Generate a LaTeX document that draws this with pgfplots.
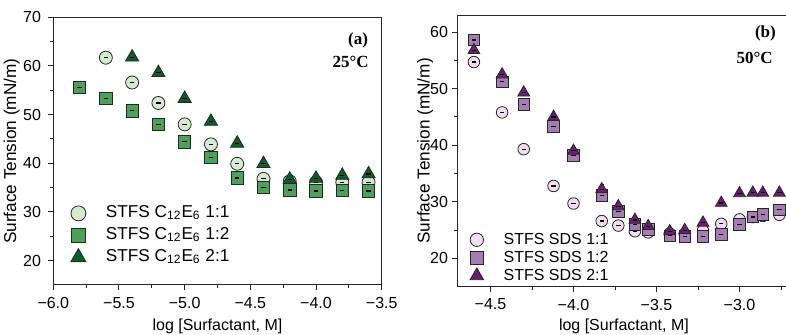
\documentclass[border=0pt]{standalone}
\usepackage{pgfplots}
\usepackage{pgfplotstable}
\pgfplotsset{compat=1.18}
\usepackage{fontspec}
\setmainfont{Liberation Sans}
\newfontfamily\tagfont{Liberation Serif}

\definecolor{gLight}{HTML}{D7EAD1}
\definecolor{gMid}{HTML}{4E9F5B}
\definecolor{gDark}{HTML}{0E5C2D}
\definecolor{pLight}{HTML}{F0DDEE}
\definecolor{pMid}{HTML}{A47DB3}
\definecolor{pDark}{HTML}{6A1F6F}

% surface tension of STFS / C12E6 mixtures, 25 C  (x = log c, y = gamma, e = error)
\pgfplotstableread{
x     y     e
-5.6  61.7  0.3
-5.4  56.6  0.6
-5.2  52.4  0.6
-5.0  48.0  0.6
-4.8  43.9  0.6
-4.6  39.9  0.3
-4.4  36.8  0.3
-4.2  36.3  0.2
-4.0  36.1  0.2
-3.8  36.1  0.2
-3.6  36.1  0.2
}\cAa
\pgfplotstableread{
x     y     e
-5.8  55.6  0.4
-5.6  53.3  0.5
-5.4  50.8  0.5
-5.2  48.0  0.5
-5.0  44.4  0.5
-4.8  41.2  0.5
-4.6  37.0  0.3
-4.4  35.0  0.3
-4.2  34.5  0.2
-4.0  34.3  0.2
-3.8  34.4  0.2
-3.6  34.3  0.2
}\cAb
\pgfplotstableread{
x     y     e
-5.4  61.8  0.3
-5.2  58.6  0.3
-5.0  53.3  0.4
-4.8  48.6  0.4
-4.6  44.1  0.3
-4.4  39.9  0.3
-4.2  36.7  0.2
-4.0  36.9  0.2
-3.8  37.5  0.2
-3.6  37.8  0.2
}\cAc

% surface tension of STFS / SDS mixtures, 50 C
\pgfplotstableread{
x      y     e
-4.60  54.7  0.3
-4.43  45.8  0.5
-4.30  39.3  0.6
-4.12  32.8  0.6
-4.00  29.7  0.7
-3.83  26.6  0.5
-3.73  25.8  0.4
-3.63  24.8  0.4
-3.55  24.6  0.3
-3.42  24.4  0.3
-3.33  24.3  0.3
-3.22  24.9  0.3
-3.11  26.1  0.2
-3.00  26.9  0.2
-2.92  27.3  0.2
-2.86  27.5  0.2
-2.76  27.7  0.2
}\cBa
\pgfplotstableread{
x      y     e
-4.60  58.6  0.4
-4.43  51.2  0.4
-4.30  47.2  0.3
-4.12  43.3  0.7
-4.00  38.2  0.4
-3.83  31.1  0.7
-3.73  28.3  0.6
-3.63  26.0  0.7
-3.55  25.1  0.5
-3.42  24.0  0.5
-3.33  23.9  0.4
-3.22  23.9  0.3
-3.11  24.2  0.2
-3.00  26.0  0.4
-2.92  27.3  0.2
-2.86  27.8  0.2
-2.76  28.6  0.4
}\cBb
\pgfplotstableread{
x      y     e
-4.60  56.8  0.3
-4.43  52.5  0.4
-4.30  49.3  0.3
-4.12  45.0  0.4
-4.00  39.0  0.5
-3.83  32.2  0.9
-3.73  29.2  0.7
-3.63  26.8  0.6
-3.55  25.7  0.5
-3.42  24.8  0.5
-3.33  25.0  0.3
-3.22  26.3  0.3
-3.11  29.8  0.2
-3.00  31.5  0.2
-2.92  31.6  0.2
-2.86  31.6  0.2
-2.76  31.6  0.2
}\cBc

\pgfplotsset{
  panel/.style={
    scale only axis,
    axis line style={line width=0.5pt, black!85},
    tick align=outside,
    tick pos=left,
    major tick length=2.6pt,
    minor tick length=1.5pt,
    every tick/.style={line width=0.5pt, black!85},
    minor x tick num=1,
    minor y tick num=1,
    tick label style={font=\fontsize{8}{9}\selectfont},
    /pgf/number format/assume math mode=true,
    xlabel style={font=\fontsize{8}{9.6}\selectfont},
    ylabel style={font=\fontsize{8.6}{10}\selectfont},
    legend style={draw=none, fill=none,
      anchor=north west, inner sep=2pt,
      /tikz/every odd column/.append style={column sep=9pt}},
    legend cell align=left,
    legend image post style={every mark/.append style={scale=1.15}},
  },
  pts/.style={only marks,
    mark options={draw=black!85, line width=0.4pt, fill=#1}},
  % error bars drawn in a second pass, over the symbols, with a short dash at the mean
  bars/.style={forget plot, only marks, mark=-, mark size=1.1pt,
    mark options={black, line width=0.6pt},
    error bars/y dir=both,
    error bars/y explicit,
    error bars/error bar style={black, line width=0.45pt},
    error bars/error mark options={rotate=90, mark size=1.0pt, black, line width=0.45pt}},
}

\begin{document}
\begin{tikzpicture}
\useasboundingbox (0,0) rectangle (393pt,167.5pt);
\clip (0,0) rectangle (393pt,167.5pt);

% (a) STFS / C12E6 mixtures at 25 C
\begin{axis}[panel,
  at={(26.65pt,25pt)}, anchor=south west,
  width=164.2pt, height=133.85pt,
  xmin=-6, xmax=-3.5, ymin=15, ymax=70,
  xtick={-6,-5.5,-5,-4.5,-4,-3.5},
  xticklabels={−6.0,−5.5,−5.0,−4.5,−4.0,−3.5},
  ytick={20,30,40,50,60,70},
  xlabel={log [Surfactant, M]},
  ylabel={Surface Tension (mN/m)},
  xlabel style={at={(axis description cs:0.5,-0.156)}, anchor=center},
  ylabel style={at={(axis description cs:-0.127,0.5)}, anchor=center},
  legend style={at={(0.04,0.325)}, font=\fontsize{8.6}{10}\selectfont,
    nodes={inner sep=1pt, text height=6.5pt, text depth=2.5pt}},
]
\addplot[pts=gLight, mark=*, mark size=3.25pt] table[x=x, y=y] {\cAa};
\addlegendentry{STFS C\textsubscript{12}E\textsubscript{6} 1:1}
\addplot[bars] table[x=x, y=y, y error=e] {\cAa};
\addplot[pts=gMid, mark=square*, mark size=3.1pt] table[x=x, y=y] {\cAb};
\addlegendentry{STFS C\textsubscript{12}E\textsubscript{6} 1:2}
\addplot[bars] table[x=x, y=y, y error=e] {\cAb};
\addplot[pts=gDark, mark=triangle*, mark size=3.8pt] table[x=x, y=y] {\cAc};
\addlegendentry{STFS C\textsubscript{12}E\textsubscript{6} 2:1}
\addplot[bars] table[x=x, y=y, y error=e] {\cAc};
\node[anchor=east, font=\tagfont\bfseries\fontsize{8.5}{10}\selectfont]
  at (rel axis cs:0.98,0.915) {(a)};
\node[anchor=east, font=\tagfont\bfseries\fontsize{8.5}{10}\selectfont]
  at (rel axis cs:0.982,0.834) {25°C};
\end{axis}

% (b) STFS / SDS mixtures at 50 C
\begin{axis}[panel,
  at={(228.65pt,24.15pt)}, anchor=south west,
  width=174.3pt, height=135.8pt,
  xmin=-4.7, xmax=-2.6, ymin=15, ymax=63,
  xtick={-4.5,-4,-3.5,-3,-2.5},
  xticklabels={−4.5,−4.0,−3.5,−3.0,−2.5},
  ytick={20,30,40,50,60},
  yticklabel style={xshift=1.5pt},
  xlabel={log [Surfactant, M]},
  ylabel={Surface Tension (mN/m)},
  xlabel style={at={(axis description cs:0.478,-0.145)}, anchor=center},
  ylabel style={at={(axis description cs:-0.092,0.5)}, anchor=center},
  legend style={at={(0.024,0.222)}, font=\fontsize{8}{9.5}\selectfont,
    nodes={inner sep=1pt, text height=6pt, text depth=1pt}},
]
\addplot[pts=pLight, mark=*, mark size=2.9pt] table[x=x, y=y] {\cBa};
\addlegendentry{STFS SDS 1:1}
\addplot[bars] table[x=x, y=y, y error=e] {\cBa};
\addplot[pts=pMid, mark=square*, mark size=2.9pt] table[x=x, y=y] {\cBb};
\addlegendentry{STFS SDS 1:2}
\addplot[bars] table[x=x, y=y, y error=e] {\cBb};
\addplot[pts=pDark, mark=triangle*, mark size=3.4pt] table[x=x, y=y] {\cBc};
\addlegendentry{STFS SDS 2:1}
\addplot[bars] table[x=x, y=y, y error=e] {\cBc};
\node[anchor=east, font=\tagfont\bfseries\fontsize{8.5}{10}\selectfont]
  at (rel axis cs:0.934,0.933) {(b)};
\node[anchor=east, font=\tagfont\bfseries\fontsize{8.5}{10}\selectfont]
  at (rel axis cs:0.925,0.844) {50°C};
\end{axis}
\end{tikzpicture}
\end{document}
